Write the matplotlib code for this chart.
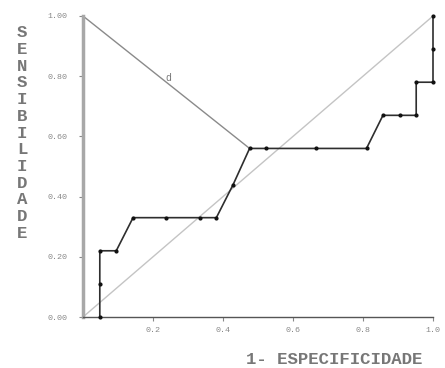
import matplotlib
matplotlib.use("Agg")
import matplotlib.pyplot as plt

# ROC curve points (1 - especificidade, sensibilidade)
roc_x = [0.048, 0.048, 0.048, 0.095, 0.143, 0.238, 0.333, 0.381, 0.429, 0.476,
         0.524, 0.667, 0.810, 0.857, 0.905, 0.952, 0.952, 1.0, 1.0, 1.0]
roc_y = [0.0, 0.11, 0.22, 0.22, 0.33, 0.33, 0.33, 0.33, 0.44, 0.56,
         0.56, 0.56, 0.56, 0.67, 0.67, 0.67, 0.78, 0.78, 0.89, 1.0]

# reference diagonal and distance line "d" to the best cut point
diag_x = [0.0, 1.0]
diag_y = [0.0, 1.0]
d_x = [0.0, 0.476]
d_y = [1.0, 0.56]

xticks = [0.2, 0.4, 0.6, 0.8, 1.0]
xtick_labels = ["0.2", "0.4", "0.6", "0.8", "1.0"]
yticks = [0.0, 0.2, 0.4, 0.6, 0.8, 1.0]
ytick_labels = ["0.00", "0.20", "0.40", "0.60", "0.80", "1.00"]

mono = "Liberation Mono"

fig = plt.figure(figsize=(4.45, 3.68), dpi=100)
ax = fig.add_axes([83 / 445, 1 - 317 / 368, 350 / 445, 301 / 368])

ax.plot(diag_x, diag_y, color="#c4c4c4", lw=1.0, zorder=1)
ax.plot(d_x, d_y, color="#8a8a8a", lw=1.0, zorder=2)
ax.plot(roc_x, roc_y, color="#2e2e2e", lw=1.2, marker="o", markersize=2.0,
        markerfacecolor="#111111", markeredgecolor="#111111", zorder=3, clip_on=False)
ax.text(0.243, 0.795, "d", fontsize=7, color="#777777", family=mono,
        ha="center", va="center")

ax.set_xlim(0, 1)
ax.set_ylim(0, 1)
ax.set_xticks(xticks)
ax.set_xticklabels(xtick_labels)
ax.set_yticks(yticks)
ax.set_yticklabels(ytick_labels)
ax.tick_params(axis="both", direction="out", length=3, width=0.8, colors="#888888",
               labelsize=6, labelcolor="#888888")
ax.tick_params(axis="x", pad=4)
ax.tick_params(axis="y", pad=8)
for lab in ax.get_xticklabels() + ax.get_yticklabels():
    lab.set_family(mono)

for side in ["top", "right"]:
    ax.spines[side].set_visible(False)
ax.spines["left"].set_color("#a8a8a8")
ax.spines["left"].set_linewidth(2.5)
ax.spines["bottom"].set_color("#555555")
ax.spines["bottom"].set_linewidth(1.0)

fig.text(334 / 445, 1 - 359 / 368, "1- ESPECIFICIDADE", family=mono, fontsize=12.5,
         color="#777777", ha="center", va="center", weight="bold")
fig.text(22 / 445, 1 - 133 / 368, "\n".join("SENSIBILIDADE"), family=mono,
         fontsize=12.5, color="#777777", ha="center", va="center", weight="bold",
         linespacing=1.14)

fig.savefig("out.png", dpi=100)
